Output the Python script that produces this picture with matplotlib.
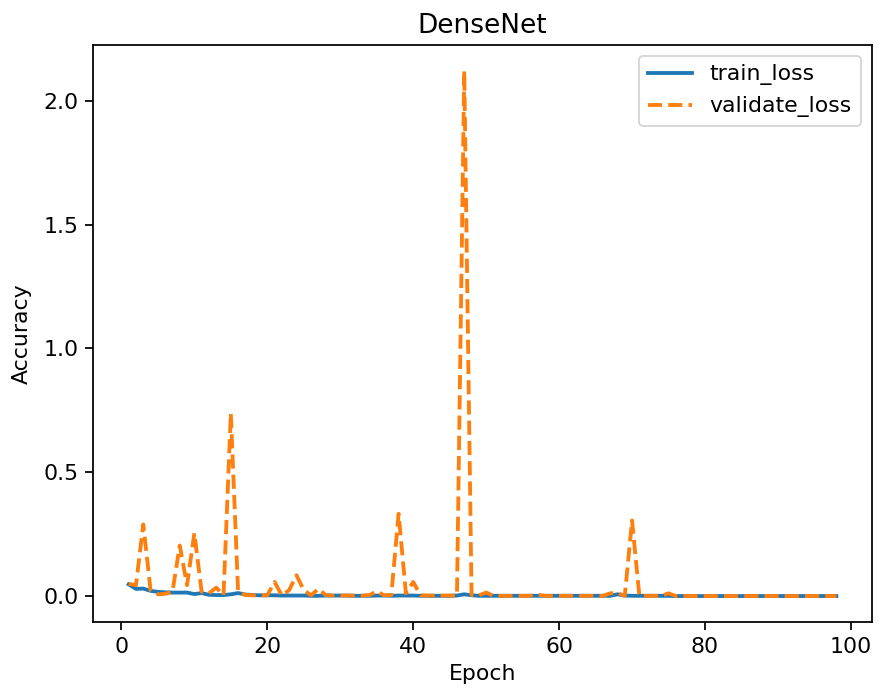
import matplotlib
matplotlib.use("Agg")
import matplotlib.pyplot as plt

epochs = list(range(1, 99))

train_loss = [
    0.048, 0.030, 0.031, 0.022, 0.018, 0.016, 0.015, 0.015, 0.015, 0.009,
    0.013, 0.006, 0.005, 0.005, 0.008, 0.013, 0.007, 0.005, 0.004, 0.004,
    0.004, 0.003, 0.003, 0.003, 0.003, 0.002, 0.002, 0.003, 0.003, 0.003,
    0.003, 0.002, 0.002, 0.002, 0.003, 0.003, 0.002, 0.003, 0.003, 0.003,
    0.002, 0.002, 0.002, 0.002, 0.002, 0.003, 0.008, 0.004, 0.002, 0.002,
    0.002, 0.002, 0.002, 0.002, 0.002, 0.002, 0.002, 0.002, 0.002, 0.002,
    0.002, 0.002, 0.002, 0.002, 0.002, 0.002, 0.002, 0.008, 0.003, 0.002,
    0.002, 0.002, 0.002, 0.002, 0.002, 0.001, 0.001, 0.001, 0.001, 0.001,
    0.001, 0.001, 0.001, 0.001, 0.001, 0.001, 0.001, 0.001, 0.001, 0.001,
    0.001, 0.001, 0.001, 0.001, 0.001, 0.001, 0.001, 0.001,
]

validate_loss = [
    0.050, 0.045, 0.290, 0.025, 0.008, 0.010, 0.018, 0.205, 0.045, 0.255,
    0.018, 0.012, 0.035, 0.004, 0.738, 0.018, 0.005, 0.004, 0.004, 0.004,
    0.058, 0.003, 0.025, 0.085, 0.025, 0.004, 0.030, 0.005, 0.003, 0.003,
    0.003, 0.003, 0.003, 0.005, 0.020, 0.004, 0.005, 0.333, 0.012, 0.058,
    0.004, 0.003, 0.003, 0.003, 0.003, 0.003, 2.120, 0.005, 0.004, 0.015,
    0.002, 0.002, 0.002, 0.002, 0.002, 0.002, 0.007, 0.002, 0.002, 0.002,
    0.002, 0.002, 0.002, 0.002, 0.002, 0.002, 0.012, 0.013, 0.002, 0.306,
    0.002, 0.002, 0.002, 0.002, 0.012, 0.001, 0.001, 0.001, 0.001, 0.001,
    0.001, 0.001, 0.001, 0.001, 0.001, 0.001, 0.001, 0.001, 0.001, 0.001,
    0.001, 0.001, 0.001, 0.001, 0.001, 0.001, 0.001, 0.001,
]

s = 1.15
plt.rcParams.update({
    "font.size": 10 * s,
    "axes.linewidth": 0.8 * s,
    "xtick.major.size": 3.5 * s,
    "ytick.major.size": 3.5 * s,
    "xtick.major.width": 0.8 * s,
    "ytick.major.width": 0.8 * s,
})

dpi = 137.5
fig = plt.figure(figsize=(880 / dpi, 689 / dpi), dpi=dpi)
ax = fig.add_axes([93.3 / 880, 1 - 622.3 / 689, (871.7 - 93.3) / 880, (622.3 - 44.7) / 689])

ax.plot(epochs, train_loss, color="#1f77b4", linestyle="-", linewidth=2.0, label="train_loss")
ax.plot(epochs, validate_loss, color="#ff7f0e", linestyle="--", linewidth=2.0, label="validate_loss")

ax.set_title("DenseNet")
ax.set_xlabel("Epoch")
ax.set_ylabel("Accuracy", labelpad=6)
ax.legend(loc="upper right")

fig.savefig("out.png", dpi=dpi)
